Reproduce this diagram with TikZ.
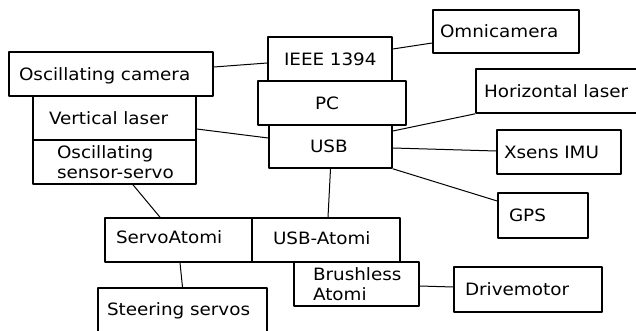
\documentclass[tikz,border=0pt]{standalone}
\usepackage{fontspec}
\setmainfont{DejaVu Sans}[FakeStretch=1.08]
\usepackage{tikz}

\begin{document}
\begin{tikzpicture}[x=1pt,y=-1pt,line join=round,
    unit/.style={draw,line width=1.6pt,rectangle,align=left,inner ysep=0pt,minimum height=44pt,
      font={\fontsize{17}{20}\selectfont\hyphenpenalty=10000\exhyphenpenalty=10000}},
    single/.style={text height=12.4pt,text depth=#1},
    single/.default=0pt,
    link/.style={line width=1pt}]
  \useasboundingbox (0,0) rectangle (636,331);
  \node[unit,single=-3pt,text width=184pt,inner xsep=10pt] (osccam) at (111,74) {Oscillating camera};
  \node[unit,single,text width=131pt,inner xsep=16pt] (vlaser) at (114.5,118) {Vertical laser};
  \node[unit,text width=115pt,inner xsep=24pt] (sservo) at (114.5,162) {Oscillating\\sensor-servo};
  \node[unit,single=-3pt,text width=92pt,inner xsep=16pt] (ieee) at (330,59) {IEEE~1394};
  \node[unit,single=-3pt,text width=34pt,inner xsep=57pt] (pc) at (332,103) {PC};
  \node[unit,single,text width=41pt,inner xsep=41pt,minimum height=43pt] (usb) at (330.5,146.5) {USB};
  \node[unit,single,text width=132pt,inner xsep=7pt,minimum height=43pt] (omni) at (506,31.5) {Omnicamera};
  \node[unit,single=-3pt,text width=152pt,inner xsep=8pt] (hlaser) at (560,91) {Horizontal~laser};
  \node[unit,single=-5pt,text width=110pt,inner xsep=7pt] (xsens) at (559,152) {Xsens IMU};
  \node[unit,single,text width=68pt,inner xsep=11pt,minimum height=45pt] (gps) at (543,215.5) {GPS};
  \node[unit,single=5.8pt,text width=125pt,inner xsep=11pt] (servoatomi) at (178.5,240) {ServoAtomi};
  \node[unit,single=4.4pt,text width=106pt,inner xsep=21pt] (usbatomi) at (326,240) {USB-Atomi};
  \node[unit,text width=87pt,inner xsep=19pt] (brushless) at (356.5,284) {Brushless\\Atomi};
  \node[unit,single=-2pt,text width=126pt,inner xsep=11pt,minimum height=45pt] (drive) at (528,289.5) {Drivemotor};
  \node[unit,single=5.4pt,text width=151pt,inner xsep=9pt,minimum height=47pt] (steer) at (182.5,311.5) {Steering servos};
  \draw[link] ([yshift=7pt]osccam.east) -- ([yshift=-4pt]ieee.west);
  \draw[link] ([yshift=-11.5pt]omni.west) -- ([yshift=10pt]ieee.east);
  \draw[link] ([yshift=-11pt]vlaser.east) -- ([yshift=8.5pt]usb.west);
  \draw[link] (hlaser.south west) -- ([yshift=15.5pt]usb.east);
  \draw[link] ([yshift=-1.5pt]usb.east) -- ([yshift=1pt]xsens.west);
  \draw[link] (usb.south east) -- ([yshift=14.5pt]gps.west);
  \draw[link] (usb.south) -- ([xshift=2pt]usbatomi.north);
  \draw[link] ([xshift=18.5pt]sservo.south) -- ([xshift=-18.5pt]servoatomi.north);
  \draw[link] ([xshift=1.5pt]servoatomi.south) -- (steer.north);
  \draw[link] ([yshift=-2pt]brushless.east) -- ([yshift=2.5pt]drive.west);
\end{tikzpicture}
\end{document}
